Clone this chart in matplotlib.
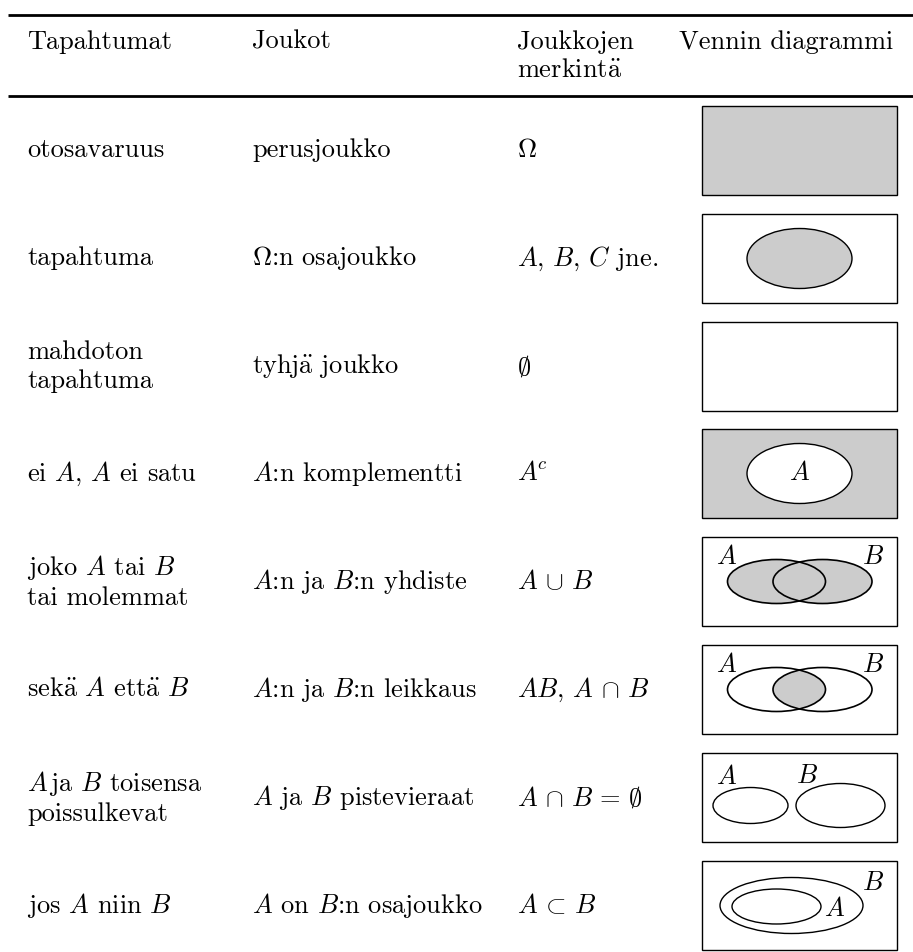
import matplotlib
matplotlib.use("Agg")
import matplotlib.pyplot as plt
from matplotlib.patches import Rectangle, Ellipse

plt.rcParams['font.family'] = ['cmr10', 'DejaVu Serif']
plt.rcParams['mathtext.fontset'] = 'cm'
plt.rcParams['axes.unicode_minus'] = False

headers = ["Tapahtumat", "Joukot", "Joukkojen\nmerkint$\\ddot{\\mathrm{a}}$", "Vennin diagrammi"]

tapahtumat = [
    "otosavaruus",
    "tapahtuma",
    "mahdoton\ntapahtuma",
    "ei $A$, $A$ ei satu",
    "joko $A$ tai $B$\ntai molemmat",
    "sek$\\ddot{\\mathrm{a}}$ $A$ ett$\\ddot{\\mathrm{a}}$ $B$",
    "$A\\,$ja $B$ toisensa\npoissulkevat",
    "jos $A$ niin $B$",
]
joukot = [
    "perusjoukko",
    "$\\Omega$:n osajoukko",
    "tyhj$\\ddot{\\mathrm{a}}$ joukko",
    "$A$:n komplementti",
    "$A$:n ja $B$:n yhdiste",
    "$A$:n ja $B$:n leikkaus",
    "$A$ ja $B$ pistevieraat",
    "$A$ on $B$:n osajoukko",
]
merkinta = [
    "$\\Omega$",
    "$A$, $B$, $C$ jne.",
    "$\\emptyset$",
    "$A^{\\!c}$",
    "$A\\,\\cup\\,B$",
    "$AB$, $A\\,\\cap\\,B$",
    "$A\\,\\cap\\,B\\,=\\,\\emptyset$",
    "$A\\,\\subset\\,B$",
]

W, H = 913, 952
fig = plt.figure(figsize=(W / 100, H / 100), dpi=100)
ax = fig.add_axes([0, 0, 1, 1])
ax.set_xlim(0, W)
ax.set_ylim(H, 0)
ax.axis("off")

grey = "#cccccc"
fs = 19
col_x = [27, 252, 517, 679]

# rules
ax.plot([8, W], [15, 15], color="black", lw=2.0, solid_capstyle="butt")
ax.plot([8, W], [96, 96], color="black", lw=2.0, solid_capstyle="butt")

# header
for x, h in zip(col_x, headers):
    ax.text(x, 30, h, fontsize=fs, va="top", ha="left", linespacing=1.25)

box_x0, box_w, box_h = 702, 195, 89
row_top = [106, 214, 322, 429, 537, 645, 753, 861]

for i, top in enumerate(row_top):
    cy = top + box_h / 2
    ax.text(col_x[0], cy, tapahtumat[i], fontsize=fs, va="center", ha="left", linespacing=1.25)
    ax.text(col_x[1], cy, joukot[i], fontsize=fs, va="center", ha="left")
    ax.text(col_x[2], cy, merkinta[i], fontsize=fs, va="center", ha="left")

    fill = grey if i in (0, 3) else "white"
    ax.add_patch(Rectangle((box_x0, top), box_w, box_h, facecolor=fill,
                           edgecolor="black", lw=1.0))
    cx = box_x0 + box_w / 2

    if i == 1:
        ax.add_patch(Ellipse((cx, cy), 105, 60, facecolor=grey, edgecolor="black", lw=1.0))
    elif i == 3:
        ax.add_patch(Ellipse((cx, cy), 105, 60, facecolor="white", edgecolor="black", lw=1.0))
        ax.text(cx, cy, "$A$", fontsize=fs, ha="center", va="center")
    elif i in (4, 5):
        ea = (cx - 23, cy)
        eb = (cx + 23, cy)
        if i == 4:
            ax.add_patch(Ellipse(ea, 98, 44, facecolor=grey, edgecolor="none"))
            ax.add_patch(Ellipse(eb, 99, 44, facecolor=grey, edgecolor="none"))
        else:
            clip = Ellipse(ea, 98, 44, facecolor="none", edgecolor="none")
            ax.add_patch(clip)
            inter = Ellipse(eb, 99, 44, facecolor=grey, edgecolor="none")
            ax.add_patch(inter)
            inter.set_clip_path(clip)
        ax.add_patch(Ellipse(ea, 98, 44, facecolor="none", edgecolor="black", lw=1.2))
        ax.add_patch(Ellipse(eb, 99, 44, facecolor="none", edgecolor="black", lw=1.2))
        ax.text(cx - 73, cy - 24, "$A$", fontsize=fs, ha="center", va="center")
        ax.text(cx + 73, cy - 24, "$B$", fontsize=fs, ha="center", va="center")
    elif i == 6:
        ax.add_patch(Ellipse((cx - 49, cy + 8), 75, 36, facecolor="none", edgecolor="black", lw=1.0))
        ax.add_patch(Ellipse((cx + 41, cy + 8), 89, 44, facecolor="none", edgecolor="black", lw=1.0))
        ax.text(cx - 73, cy - 21, "$A$", fontsize=fs, ha="center", va="center")
        ax.text(cx + 7, cy - 21, "$B$", fontsize=fs, ha="center", va="center")
    elif i == 7:
        ax.add_patch(Ellipse((cx - 8, cy), 143, 56, facecolor="none", edgecolor="black", lw=1.0))
        ax.add_patch(Ellipse((cx - 23, cy + 1), 89, 35, facecolor="none", edgecolor="black", lw=1.0))
        ax.text(cx + 35, cy + 4, "$A$", fontsize=fs, ha="center", va="center")
        ax.text(cx + 74, cy - 22, "$B$", fontsize=fs, ha="center", va="center")

fig.savefig("out.png", dpi=100)
